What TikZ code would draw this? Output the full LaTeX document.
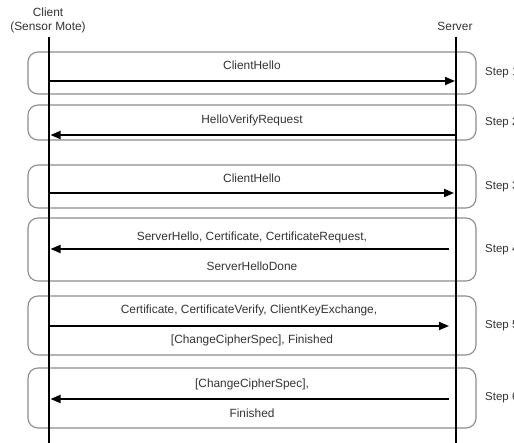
\documentclass[tikz,border=0pt]{standalone}
\usepackage{fontspec}
\setmainfont{Liberation Sans}
\usetikzlibrary{arrows.meta}
\begin{document}
\begin{tikzpicture}[x=1pt,y=-1pt,
  lifeline/.style={line width=2.6pt,black},
  msg/.style={line width=1.8pt,black,-{Triangle[length=10pt,width=8pt]}},
  stepbox/.style={draw=black!45,line width=1.1pt,rounded corners=10pt,minimum width=448pt,inner sep=0pt},
  lbl/.style={font=\fontsize{11.9}{14}\selectfont,text=black!80,inner sep=0pt},
  steplbl/.style={font=\fontsize{11.5}{14}\selectfont,text=black!80,anchor=west,inner sep=0pt}]
\useasboundingbox (0,0) rectangle (514,443);
% step boxes
\node[stepbox,minimum height=42pt] (b1) at (252,73) {};
\node[stepbox,minimum height=35pt] (b2) at (252,122.5) {};
\node[stepbox,minimum height=43pt] (b3) at (252,186.5) {};
\node[stepbox,minimum height=63pt] (b4) at (252,249.5) {};
\node[stepbox,minimum height=59pt] (b5) at (252,325.5) {};
\node[stepbox,minimum height=60pt] (b6) at (252,398) {};
% headers
\node[lbl] (client) at (48,12) {Client};
\node[lbl] (clientsub) at (48,27) {(Sensor Mote)};
\node[lbl] (server) at (455,26) {Server};
% lifelines
\coordinate (ctop) at (49,37);
\coordinate (cbot) at (49,443);
\coordinate (stop) at (456,37);
\coordinate (sbot) at (456,443);
\draw[lifeline] (ctop) -- (cbot);
\draw[lifeline] (stop) -- (sbot);
% message endpoints
\coordinate (c1) at (50,81);   \coordinate (s1) at (455,81);
\coordinate (c2) at (50.5,135); \coordinate (s2) at (456,135);
\coordinate (c3) at (50,193);  \coordinate (s3) at (454,193);
\coordinate (c4) at (50.5,249); \coordinate (s4) at (449,249);
\coordinate (c5) at (50,326);  \coordinate (s5) at (449,326);
\coordinate (c6) at (50.5,399); \coordinate (s6) at (449,399);
\draw[msg] (c1) -- (s1);
\draw[msg] (s2) -- (c2);
\draw[msg] (c3) -- (s3);
\draw[msg] (s4) -- (c4);
\draw[msg] (c5) -- (s5);
\draw[msg] (s6) -- (c6);
% message labels
\node[lbl] (m1) at (252,65) {ClientHello};
\node[lbl] (m2) at (252,120) {HelloVerifyRequest};
\node[lbl] (m3) at (252,178) {ClientHello};
\node[lbl] (m4a) at (252,237) {ServerHello, Certificate, CertificateRequest,};
\node[lbl] (m4b) at (252,266) {ServerHelloDone};
\node[lbl] (m5a) at (249,310) {Certificate, CertificateVerify, ClientKeyExchange,};
\node[lbl] (m5b) at (252,340) {[ChangeCipherSpec], Finished};
\node[lbl] (m6a) at (252,384) {[ChangeCipherSpec],};
\node[lbl] (m6b) at (252,413) {Finished};
% step labels
\node[steplbl] (st1) at (485,73) {Step 1};
\node[steplbl] (st2) at (485,122.5) {Step 2};
\node[steplbl] (st3) at (485,186.5) {Step 3};
\node[steplbl] (st4) at (485,249.5) {Step 4};
\node[steplbl] (st5) at (485,325.5) {Step 5};
\node[steplbl] (st6) at (485,398) {Step 6};
\end{tikzpicture}
\end{document}
